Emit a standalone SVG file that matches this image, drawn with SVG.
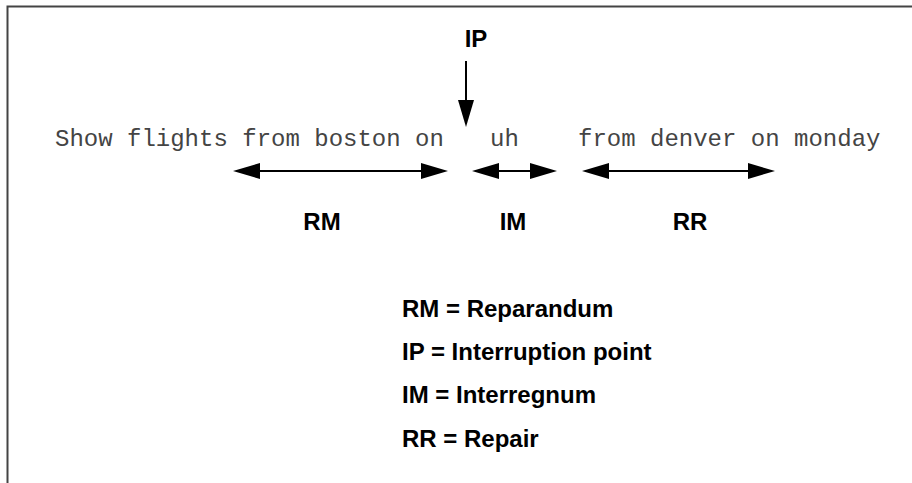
<svg xmlns="http://www.w3.org/2000/svg" width="912" height="483" viewBox="0 0 912 483">
  <style>
    .mono { font-family: "Liberation Mono", "DejaVu Sans Mono", monospace; font-size: 24px; fill: #444; }
    .lbl { font-family: "Liberation Sans", Arial, sans-serif; font-weight: bold; font-size: 24px; fill: #000; }
    .conn { stroke: #000; stroke-width: 2; fill: none; }
  </style>
  <defs>
    <marker id="head" viewBox="0 0 27 16" refX="17" refY="8" markerWidth="27" markerHeight="16" markerUnits="userSpaceOnUse" orient="auto-start-reverse">
      <path d="M0,0 L27,8 L0,16 z" fill="#000"/>
    </marker>
  </defs>
  <rect width="912" height="483" fill="#fff"/>
  <path d="M7.5,483 V6.5 H912" fill="none" stroke="#444" stroke-width="2"/>

  <g id="sentence">
    <text class="mono" x="55" y="146">Show flights from boston on</text>
    <text class="mono" x="490" y="146">uh</text>
    <text class="mono" x="578" y="146">from denver on monday</text>
  </g>

  <g id="node-IP"><text class="lbl" x="476" y="47" text-anchor="middle">IP</text></g>
  <g id="node-RM"><text class="lbl" x="322" y="230" text-anchor="middle">RM</text></g>
  <g id="node-IM"><text class="lbl" x="513" y="230" text-anchor="middle">IM</text></g>
  <g id="node-RR"><text class="lbl" x="690" y="230" text-anchor="middle">RR</text></g>

  <g id="connectors">
    <line class="conn" x1="466" y1="61" x2="466" y2="117" marker-end="url(#head)"/>
    <line class="conn" x1="243" y1="171" x2="438" y2="171" marker-start="url(#head)" marker-end="url(#head)"/>
    <line class="conn" x1="482" y1="171" x2="547" y2="171" marker-start="url(#head)" marker-end="url(#head)"/>
    <line class="conn" x1="592" y1="171" x2="765" y2="171" marker-start="url(#head)" marker-end="url(#head)"/>
  </g>

  <g id="legend">
    <text class="lbl" x="402" y="317">RM = Reparandum</text>
    <text class="lbl" x="402" y="360">IP = Interruption point</text>
    <text class="lbl" x="402" y="403">IM = Interregnum</text>
    <text class="lbl" x="402" y="447">RR = Repair</text>
  </g>
</svg>
